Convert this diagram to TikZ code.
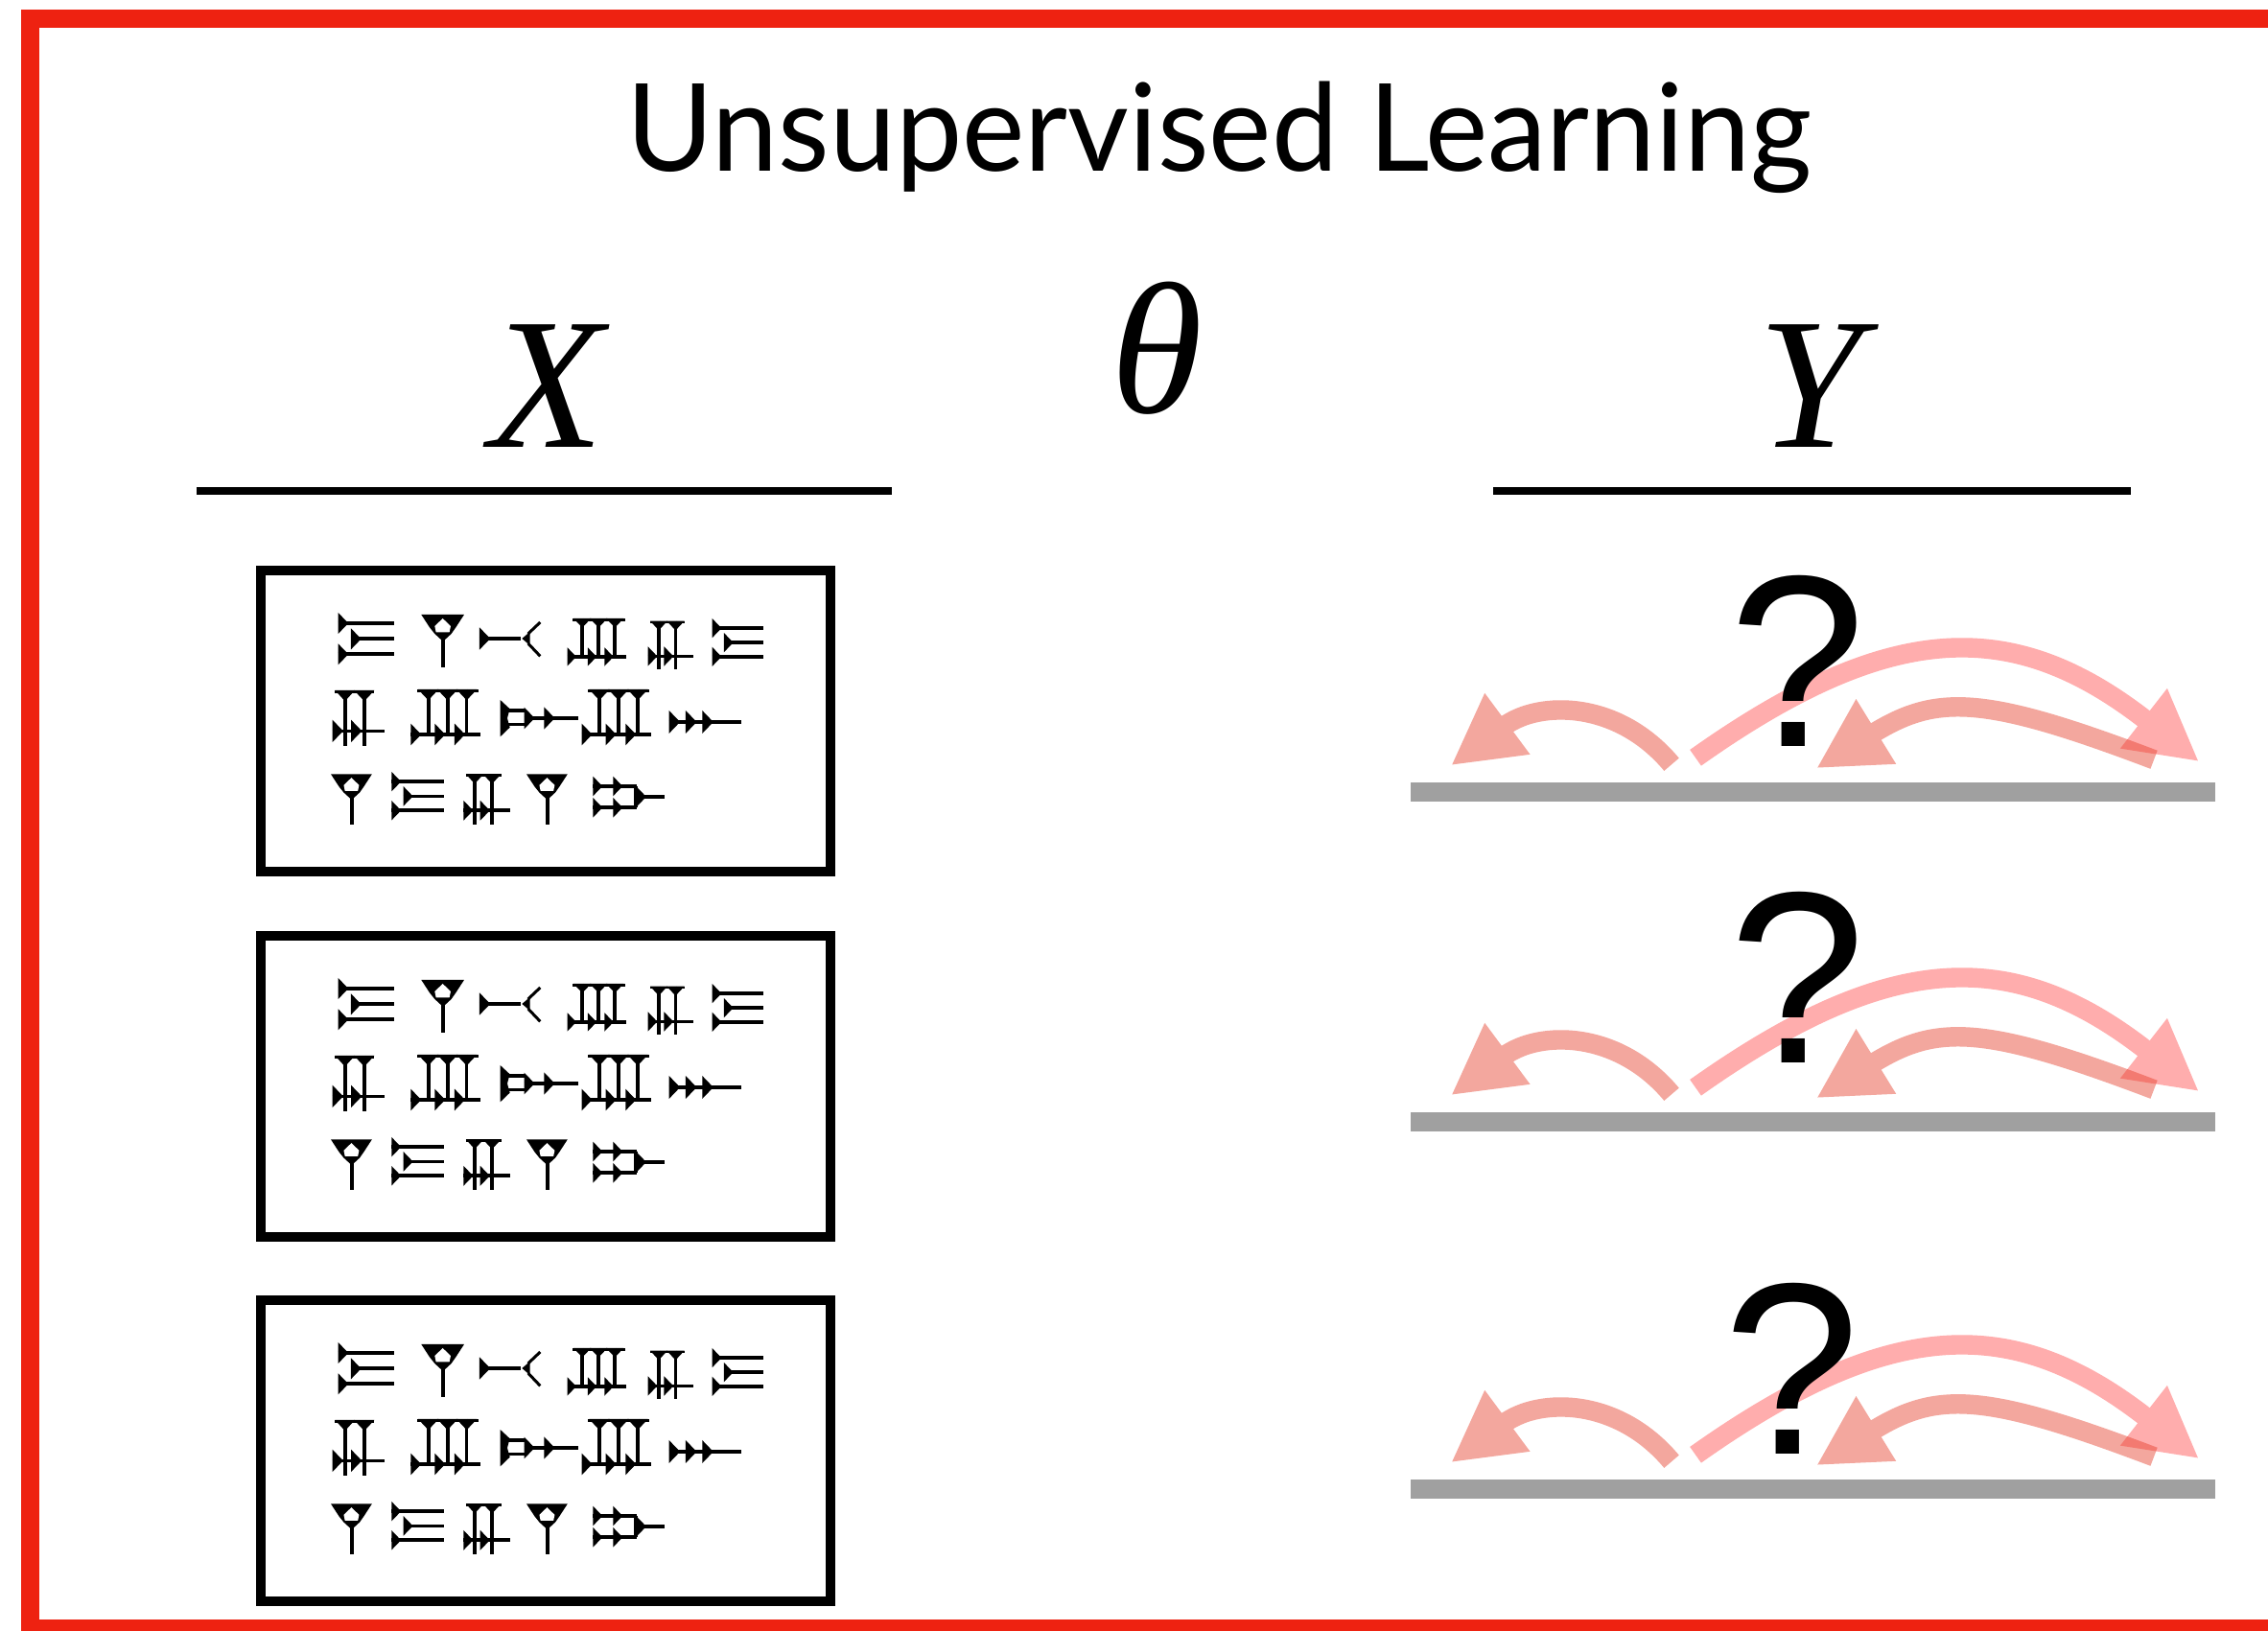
\documentclass[tikz,border=0pt]{standalone}
\usepackage{fontspec}
\usepackage{graphicx}
\usetikzlibrary{arrows.meta}
\newfontfamily\titlef{Lato}
\newfontfamily\lserif{Liberation Serif}
\newfontfamily\lsans{Liberation Sans}
\definecolor{framered}{RGB}{238,34,17}
\definecolor{bargray}{RGB}{160,160,160}
\definecolor{pinkarc}{RGB}{255,60,60}
\definecolor{salmonarc}{RGB}{230,60,40}
% cuneiform helpers (local units: 1 unit = 1/3 px after block scaling)
\newcommand\cwh[3]{\fill ({#1},{#2-0.5*#3}) -- ({#1+0.48*#3},{#2}) -- ({#1},{#2+0.5*#3}) -- cycle;}
\newcommand\cwH[4]{\cwh{#1}{#2}{#4}\draw[cwl] ({#1},{#2}) -- ({#1+#3},{#2});}
\newcommand\cuat[4]{\begin{scope}[shift={(#1,#2)},scale=#3]#4\end{scope}}
\newcommand\cuA{\cwH{0}{33}{175}{66}\cwH{40}{82}{135}{66}\cwH{0}{130}{175}{66}}
\newcommand\cuB{%
   \fill (0,0) -- (134,0) -- (108,40) -- (94,60) -- (68,84) -- (42,60) -- (26,40) -- cycle;
   \fill[white] (67,12) -- (92,36) -- (88,55) -- (46,55) -- (42,36) -- cycle;
   \draw[cwl] (68,78) -- (68,165);}
\newcommand\cuC{%
   \cwH{0}{81}{130}{70}
   \fill (133,81) -- (158,60) -- (158,102) -- cycle;
   \draw[cwt] (152,66) -- (190,30) (152,96) -- (190,136);}
\newcommand\cuD{%
   \fill (20,0) rectangle (212,9);
   \fill (23,0) -- (87,0) -- (55,34) -- cycle;
   \fill (83,0) -- (147,0) -- (115,34) -- cycle;
   \fill (143,0) -- (207,0) -- (175,34) -- cycle;
   \draw[cwl] (55,0) -- (55,141) (115,0) -- (115,141) (175,0) -- (175,141) (0,141) -- (217,141);
   \cwh{0}{141}{68}\cwh{75}{141}{68}\cwh{137}{141}{68}}
\newcommand\cuE{%
   \fill (8,0) rectangle (124,8);
   \fill (8,0) -- (66,0) -- (37,32) -- cycle;
   \fill (64,0) -- (124,0) -- (94,32) -- cycle;
   \draw[cwl] (37,0) -- (37,165) (94,0) -- (94,165) (0,120) -- (155,120);
   \cwh{0}{120}{66}\cwh{55}{120}{66}}
\newcommand\cuF{%
   \fill (0,0) -- (30,28) -- (22,57) -- (30,86) -- (0,115) -- cycle;
   \draw[cwl] (20,33) -- (75,33) (20,77) -- (75,77);
   \cwH{75}{57}{62}{68}\cwH{137}{57}{108}{70}}
\newcommand\cuG{%
   \draw[cwl] (0,36) -- (225,36);
   \cwh{0}{36}{72}\cwh{52}{36}{72}\cwh{104}{36}{72}}
\newcommand\cuH{%
   \draw[cwl] (0,30) -- (137,30) (0,97) -- (137,97) (135,30) -- (135,97);
   \cwh{0}{30}{62}\cwh{63}{30}{62}\cwh{0}{97}{62}\cwh{63}{97}{62}
   \cwH{135}{63}{88}{66}}
\newcommand\cublock{%
   \cuat{68}{12}{1}{\cuA}
   \cuat{328}{18}{1}{\cuB}
   \cuat{510}{12}{1}{\cuC}
   \cuat{785}{30}{0.85}{\cuD}
   \cuat{1037}{38}{0.92}{\cuE}
   \cuat{1238}{30}{0.92}{\cuA}
   \cuat{50}{255}{1.06}{\cuE}
   \cuat{295}{252}{1}{\cuD}
   \cuat{575}{285}{1}{\cuF}
   \cuat{830}{252}{1}{\cuD}
   \cuat{1103}{318}{1}{\cuG}
   \cuat{45}{517}{0.96}{\cuB}
   \cuat{235}{510}{0.93}{\cuA}
   \cuat{460}{517}{0.95}{\cuE}
   \cuat{657}{517}{0.96}{\cuB}
   \cuat{865}{525}{1}{\cuH}}
\tikzset{
 cwl/.style={line width=1.05pt},
 cwt/.style={line width=0.85pt},
}
\begin{document}
\begin{tikzpicture}[x=0.01cm, y=-0.01cm,
  cbox/.style={draw, line width=2.85pt, minimum width=5.94cm, minimum height=3.14cm, inner sep=0pt},
  ybar/.style={fill=bargray, inner sep=0pt, minimum width=8.39cm, minimum height=0.2cm},
  varlbl/.style={font={\lserif\itshape\fontsize{55.5pt}{60pt}\selectfont}, inner sep=0pt, anchor=base},
  qmark/.style={font={\lsans\fontsize{72.6pt}{80pt}\selectfont}, inner sep=0pt, anchor=base},
  titletext/.style={font={\titlef\fontsize{36.1pt}{40pt}\selectfont}, inner sep=0pt, anchor=base},
  ulbar/.style={line width=2pt},
  arcpink/.style={draw=pinkarc, line width=5.8pt, -{Triangle[length=20.8pt,width=21pt]}},
  arcsalmon/.style={draw=salmonarc, line width=5.8pt, -{Triangle[length=20.8pt,width=21pt]}},
]
\clip (0,0) rectangle (2365,1701);
\fill[white] (0,0) rectangle (2365,1701);
\draw[framered, line width=5.41pt] (31.5,20) rectangle (2450,1698.5);

\node[titletext] (title) at (1271.5,179) {\scalebox{0.974}[1]{Unsupervised Learning}};
\node[varlbl] (X) at (570,467) {X};
\node[varlbl] (theta) at (1206,431) {θ};
\node[varlbl] (Y) at (1888,467) {Y};
\draw[ulbar] (205,512) -- (930,512);
\draw[ulbar] (1557,512) -- (2222,512);

\node[cbox] (box1) at (569,752) {};
\node[cbox] (box2) at (569,1133) {};
\node[cbox] (box3) at (569,1513) {};
\foreach \oy in {635,1016,1396}{
  \begin{scope}[shift={(330,\oy)},scale=0.3333]
    \cublock
  \end{scope}
}

\node[ybar] (bar1) at (1890.5,826) {};
\node[ybar] (bar2) at (1890.5,1170) {};
\node[ybar] (bar3) at (1890.5,1553) {};

\foreach \i in {1,2,3}{
  \begin{scope}[shift={(bar\i.north west)}]
    \coordinate (st\i) at (273,-18);
    \coordinate (sp\i) at (43,-17);
    \coordinate (bt\i) at (298,-25);
    \coordinate (bp\i) at (823,-21);
    \coordinate (mt\i) at (776,-23);
    \coordinate (mp\i) at (424,-14);
  \end{scope}
  \begin{scope}[transparency group, opacity=0.42]
    \draw[arcpink] (bt\i) .. controls +(206,-146) and +(-192,-150) .. (bp\i);
  \end{scope}
  \begin{scope}[transparency group, opacity=0.45]
    \draw[arcsalmon] (st\i) .. controls +(-56,-67) and +(92,-68) .. (sp\i);
  \end{scope}
  \begin{scope}[transparency group, opacity=0.45]
    \draw[arcsalmon] (mt\i) .. controls +(-179,-68) and +(125,-77) .. (mp\i);
  \end{scope}
}

\node[qmark] (q1) at (1874,779) {?};
\node[qmark] (q2) at (1874,1109) {?};
\node[qmark] (q3) at (1868,1517) {?};
\end{tikzpicture}
\end{document}
